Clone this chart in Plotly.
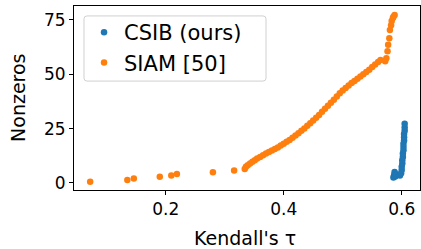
import plotly.graph_objects as go

# CSIB (ours) points: Kendall's tau, nonzeros
csib_tau = [0.586, 0.587, 0.588, 0.588, 0.589, 0.590, 0.597, 0.599, 0.600, 0.600,
            0.601, 0.601, 0.602, 0.602, 0.603, 0.603, 0.603, 0.604, 0.604, 0.604,
            0.605, 0.605, 0.605]
csib_nnz = [2.5, 3.3, 4.2, 5.0, 3.0, 4.0, 3.5, 4.5, 6.0, 7.5,
            9.0, 10.5, 12.0, 13.5, 15.0, 16.5, 18.0, 19.5, 21.0, 22.5,
            24.0, 25.5, 27.2]

# SIAM [50] points
siam_tau = [0.072, 0.135, 0.146, 0.190, 0.2095, 0.219, 0.280, 0.316,
            0.334, 0.336, 0.339, 0.343, 0.347, 0.351, 0.355, 0.360, 0.365, 0.370,
            0.375, 0.380, 0.385, 0.390, 0.395, 0.400, 0.405, 0.410, 0.415, 0.420,
            0.425, 0.430, 0.435, 0.440, 0.445, 0.450, 0.455, 0.460, 0.465, 0.470,
            0.475, 0.480, 0.485, 0.490, 0.495, 0.500, 0.505, 0.510, 0.515, 0.520,
            0.525, 0.530, 0.535, 0.540, 0.545, 0.550, 0.555, 0.560, 0.564,
            0.572, 0.574, 0.576, 0.577, 0.579, 0.580, 0.582, 0.583, 0.585, 0.586, 0.588]
siam_nnz = [0.6, 1.4, 2.1, 2.9, 3.5, 4.1, 4.9, 5.7,
            6.4, 7.5, 8.2, 9.0, 9.8, 10.5, 11.2, 12.0, 12.8, 13.5,
            14.2, 14.9, 15.6, 16.3, 17.2, 18.0, 18.9, 19.8, 20.8, 21.8,
            22.9, 24.0, 25.1, 26.3, 27.4, 28.7, 30.0, 31.3, 32.7, 34.1,
            35.5, 36.9, 38.3, 39.8, 41.2, 42.5, 43.6, 44.8, 45.9, 46.9,
            47.9, 48.9, 50.0, 51.0, 52.1, 53.3, 54.4, 55.6, 56.5,
            56.0, 57.3, 60.5, 63.5, 66.5, 70.3, 72.5, 74.5, 75.8, 76.4, 77.2]

x_ticks = [0.2, 0.4, 0.6]
x_tick_labels = ["0.2", "0.4", "0.6"]
y_ticks = [0, 25, 50, 75]

font = "DejaVu Sans"

fig = go.Figure()
fig.add_trace(go.Scatter(x=csib_tau, y=csib_nnz, mode="markers", name="CSIB (ours)",
                         marker=dict(color="#1f77b4", size=6.5, line=dict(width=0))))
fig.add_trace(go.Scatter(x=siam_tau, y=siam_nnz, mode="markers", name="SIAM [50]",
                         marker=dict(color="#ff7f0e", size=6.5, line=dict(width=0))))

axis_common = dict(showline=True, linecolor="black", linewidth=1, mirror=True,
                   ticks="outside", ticklen=4, tickcolor="black", showgrid=False,
                   zeroline=False, automargin=False,
                   tickfont=dict(family=font, size=17, color="black"))

fig.update_layout(
    width=421, height=249,
    margin=dict(l=74, r=1, t=6, b=59),
    paper_bgcolor="white", plot_bgcolor="white",
    font=dict(family=font, color="black"),
    xaxis=dict(range=[0.0446, 0.6310], tickvals=x_ticks, ticktext=x_tick_labels, **axis_common),
    yaxis=dict(range=[-3.22, 81.34], tickvals=y_ticks, **axis_common),
    legend=dict(x=0.029, y=0.967, xanchor="left", yanchor="top",
                bgcolor="rgba(0,0,0,0)", borderwidth=0,
                font=dict(family=font, size=21, color="black"), tracegroupgap=0,
                itemwidth=30),
    showlegend=True,
    shapes=[
        dict(type="path", xref="paper", yref="paper", layer="below",
             path="M 0.0375,0.592 L 0.5463,0.592 Q 0.555,0.592 0.555,0.608 "
                  "L 0.555,0.930 Q 0.555,0.946 0.5463,0.946 L 0.0375,0.946 "
                  "Q 0.0289,0.946 0.0289,0.930 L 0.0289,0.608 Q 0.0289,0.592 0.0375,0.592 Z",
             line=dict(color="#d0d0d0", width=1), fillcolor="rgba(255,255,255,0.8)"),
    ],
    annotations=[
        dict(text="Kendall's τ", xref="paper", yref="paper", x=0.493, y=-0.262,
             xanchor="center", yanchor="middle", showarrow=False,
             font=dict(family=font, size=19, color="black")),
        dict(text="Nonzeros", xref="paper", yref="paper", x=-0.162, y=0.5,
             xanchor="center", yanchor="middle", showarrow=False, textangle=-90,
             font=dict(family=font, size=19, color="black")),
    ],
)

fig.write_html("out.html", config={"displayModeBar": False},
               post_script="document.body.style.margin='0';document.body.style.padding='0';")
